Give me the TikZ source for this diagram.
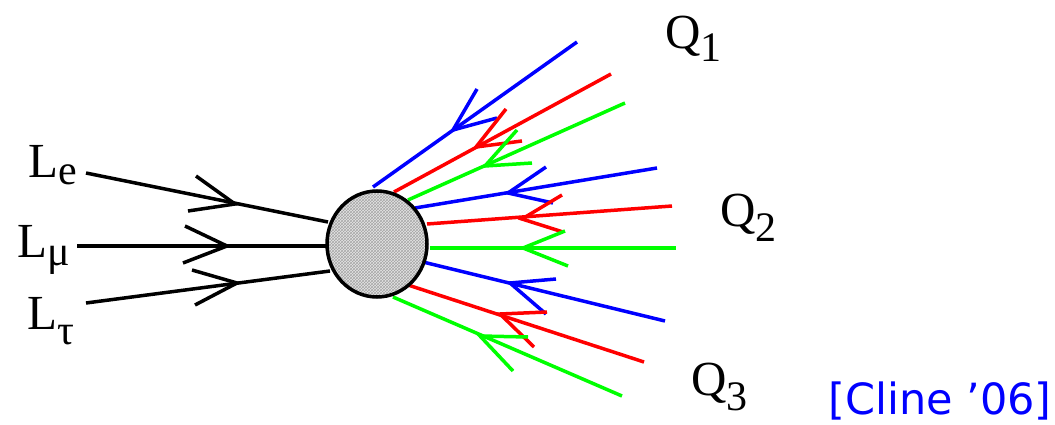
\documentclass[tikz,border=0pt]{standalone}
\usepackage{fontspec}
\setmainfont{Liberation Serif}
\newfontfamily\credfont{DejaVu Sans}
\usetikzlibrary{patterns,shapes.geometric}
\definecolor{cB}{RGB}{0,0,255}
\definecolor{cR}{RGB}{255,0,0}
\definecolor{cG}{RGB}{0,255,0}
\tikzset{
  lep/.style={line width=3.5pt,black},
  qblue/.style={line width=3.5pt,cB},
  qred/.style={line width=3.5pt,cR},
  qgreen/.style={line width=3.5pt,cG},
  lab/.style={inner sep=0pt,anchor=base west,font=\fontsize{49}{49}\selectfont},
}
\newcommand{\sbs}[2]{\raisebox{#1}{\fontsize{42}{42}\selectfont #2}}
\begin{document}
\begin{tikzpicture}[x=1pt,y=-1pt]
\useasboundingbox (0,0) rectangle (1055,425);
% blob
\node (blob) [ellipse,minimum width=100pt,minimum height=106pt,inner sep=0pt] at (377,244) {};
\fill[gray!20] (377,244) ellipse [x radius=50,y radius=53];
\fill[pattern=crosshatch,pattern color=gray!70] (377,244) ellipse [x radius=50,y radius=53];
% leptons
\coordinate (le0) at (86,173); \coordinate (le1) at (328,222);
\coordinate (lm0) at (77,246); \coordinate (lm1) at (328,246);
\coordinate (lt0) at (86,303); \coordinate (lt1) at (330,271);
\draw[lep] (le0) -- (le1);
\draw[lep] (196,176) -- (235,204) -- (188,211);
\draw[lep] (lm0) -- (lm1);
\draw[lep] (185,226) -- (227,246) -- (183,263);
\draw[lep] (lt0) -- (lt1);
\draw[lep] (192,270) -- (237,283) -- (195,305);
% quarks group 1
\draw[qblue] (373,187) -- (577,42);
\draw[qblue] (477,89) -- (453,130) -- (497,118);
\draw[qred] (394,192) -- (611,74);
\draw[qred] (506,109) -- (476,147) -- (522,141);
\draw[qgreen] (408,200) -- (625,103);
\draw[qgreen] (517,130) -- (485,166) -- (532,163);
% group 2
\draw[qblue] (415,208) -- (657,168);
\draw[qblue] (546,167) -- (508,193) -- (553,203);
\draw[qred] (427,224) -- (672,206);
\draw[qred] (562,195) -- (522,219) -- (563,232);
\draw[qgreen] (430,248) -- (676,248);
\draw[qgreen] (565,231) -- (523,248) -- (568,266);
% group 3
\draw[qblue] (423,262) -- (665,321);
\draw[qblue] (556,279) -- (510,283) -- (546,314);
\draw[qred] (408,285) -- (644,362);
\draw[qred] (547,312) -- (500,314) -- (534,347);
\draw[qgreen] (393,297) -- (622,396);
\draw[qgreen] (528,337) -- (480,336) -- (513,371);
% blob outline
\draw[line width=3.5pt] (377,244) ellipse [x radius=50,y radius=53];
% labels
\node[lab] (Le) at (28,177) {L\sbs{-7pt}{e}};
\node[lab] (Lm) at (17,257) {L\sbs{-8pt}{μ}};
\node[lab] (Lt) at (27,329) {L\sbs{-15pt}{τ}};
\node[lab] (Q1) at (665,49) {Q\sbs{-13pt}{1}};
\node[lab] (Q2) at (720,226) {Q\sbs{-15pt}{2}};
\node[lab] (Q3) at (691,395) {Q\sbs{-15pt}{3}};
\node[inner sep=0pt,anchor=base east,font=\credfont\fontsize{43}{43}\selectfont,text=cB] (cite) at (1052,414) {[Cline ’06]};
\end{tikzpicture}
\end{document}
